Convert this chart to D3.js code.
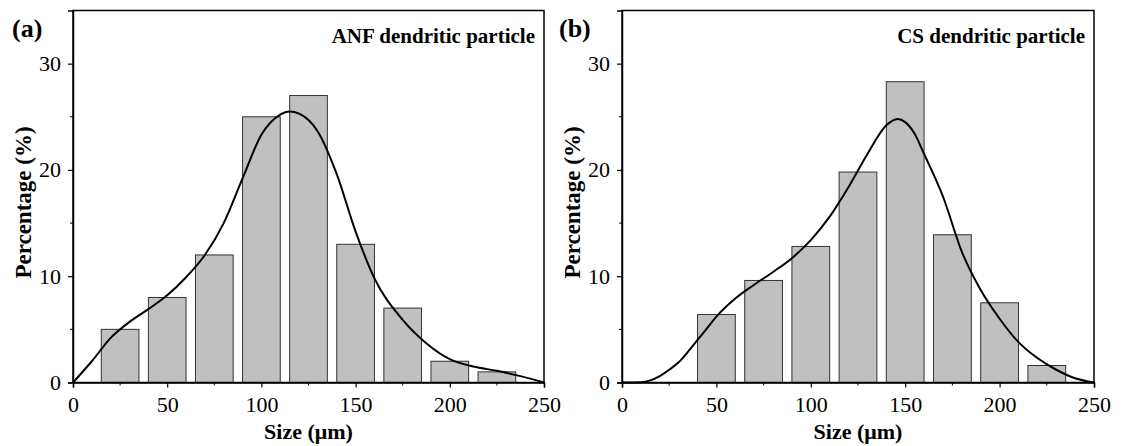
<!DOCTYPE html>
<html>
<head>
<meta charset="utf-8">
<script src="https://cdn.jsdelivr.net/npm/d3@7"></script>
<style>
    body { margin: 0; background: #fff; }
    svg { display: block; }
    svg text { font-family: "Liberation Serif", "Times New Roman", serif; fill: #000; }
</style>
</head>
<body>
<div id="chart"></div>
<script>
// bin centres (µm) and percentages
const anfBins = [25, 50, 75, 100, 125, 150, 175, 200, 225];
const anfPct = [5, 8, 12, 25, 27, 13, 7, 2, 1];
const csBins = [50, 75, 100, 125, 150, 175, 200, 225];
const csPct = [6.4, 9.6, 12.8, 19.8, 28.3, 13.9, 7.5, 1.6];

// fitted distribution curves
const anfFitX = [0, 10, 20, 30, 40, 50, 60, 70, 80, 90, 100, 110, 115, 120, 130, 140, 150, 160, 175, 187.5, 200, 212.5, 225, 237.5, 250];
const anfFitY = [0, 2.0, 4.2, 5.7, 6.9, 8.2, 9.9, 12.0, 15.0, 19.2, 23.3, 25.2, 25.5, 25.3, 23.6, 19.6, 14.2, 9.8, 5.9, 3.7, 2.2, 1.5, 1.1, 0.6, 0];
const csFitX = [0, 10, 15, 20, 25, 30, 35, 40, 45, 50, 60, 70, 80, 90, 100, 110, 120, 130, 140, 146, 150, 155, 160, 170, 180, 190, 200, 210, 220, 230, 240, 250];
const csFitY = [0, 0.03, 0.2, 0.6, 1.2, 1.9, 2.9, 4.0, 5.1, 6.2, 7.9, 9.2, 10.4, 11.7, 13.4, 15.6, 18.4, 21.5, 24.2, 24.8, 24.5, 23.4, 21.5, 17.5, 12.3, 8.7, 6.0, 3.8, 2.3, 1.2, 0.4, 0];

const xTicks = [0, 50, 100, 150, 200, 250];
const yTicks = [0, 10, 20, 30];

const width = 1121, height = 446;
const binWidth = 20;

const svg = d3.select("#chart").append("svg")
    .attr("width", width)
    .attr("height", height)
    .attr("viewBox", `0 0 ${width} ${height}`);

function drawPanel({left, right, tag, tagX, title, bins, pct, fitX, fitY, yTitleX}) {
    const top = 10.5, bottom = 382.5;
    const x = d3.scaleLinear().domain([0, 250]).range([left, right]);
    const y = d3.scaleLinear().domain([0, 35]).range([bottom, top]);

    const g = svg.append("g");

    // bars
    g.append("g")
        .selectAll("rect")
        .data(bins)
        .join("rect")
        .attr("x", (d) => x(d - binWidth / 2))
        .attr("width", (d) => x(d + binWidth / 2) - x(d - binWidth / 2))
        .attr("y", (d, i) => y(pct[i]))
        .attr("height", (d, i) => y(0) - y(pct[i]))
        .attr("fill", "#c0c0c0")
        .attr("stroke", "#333")
        .attr("stroke-width", 1);

    // fitted curve
    const line = d3.line()
        .x((d) => x(d[0]))
        .y((d) => y(d[1]))
        .curve(d3.curveMonotoneX);
    g.append("path")
        .datum(fitX.map((v, i) => [v, fitY[i]]))
        .attr("d", line)
        .attr("fill", "none")
        .attr("stroke", "#000")
        .attr("stroke-width", 2);

    // frame
    g.append("rect")
        .attr("x", left).attr("y", top)
        .attr("width", right - left).attr("height", bottom - top)
        .attr("fill", "none")
        .attr("stroke", "#000")
        .attr("stroke-width", 1.5);

    // axes
    const xAxis = g.append("g")
        .attr("transform", `translate(0,${bottom})`)
        .call(d3.axisBottom(x).tickValues(xTicks).tickSize(5).tickPadding(9));
    xAxis.append("g")
        .selectAll("line")
        .data(d3.range(25, 250, 50))
        .join("line")
        .attr("x1", (d) => x(d)).attr("x2", (d) => x(d))
        .attr("y1", 0).attr("y2", 3)
        .attr("stroke", "#000");

    const yAxis = g.append("g")
        .attr("transform", `translate(${left},0)`)
        .call(d3.axisLeft(y).tickValues(yTicks).tickSize(5).tickPadding(7));
    yAxis.append("g")
        .selectAll("line")
        .data([5, 15, 25])
        .join("line")
        .attr("y1", (d) => y(d)).attr("y2", (d) => y(d))
        .attr("x1", 0).attr("x2", -3)
        .attr("stroke", "#000");

    g.selectAll(".domain").attr("stroke", "#000").attr("stroke-width", 1.5);
    g.selectAll(".tick line").attr("stroke", "#000").attr("stroke-width", 1.2);
    g.selectAll(".tick text")
        .style("font-family", "'Liberation Serif', 'Times New Roman', serif")
        .style("font-size", "22px")
        .attr("fill", "#000");

    // titles
    g.append("text")
        .attr("x", (left + right) / 2)
        .attr("y", 439)
        .attr("text-anchor", "middle")
        .attr("font-weight", "bold")
        .attr("font-size", 22)
        .text("Size (μm)");

    g.append("text")
        .attr("transform", `translate(${yTitleX},${(top + bottom) / 2 + 6}) rotate(-90)`)
        .attr("text-anchor", "middle")
        .attr("font-weight", "bold")
        .attr("font-size", 23)
        .text("Percentage (%)");

    g.append("text")
        .attr("x", tagX)
        .attr("y", 37)
        .attr("font-weight", "bold")
        .attr("font-size", 26)
        .text(tag);

    g.append("text")
        .attr("x", right - 9)
        .attr("y", 43)
        .attr("text-anchor", "end")
        .attr("font-weight", "bold")
        .attr("font-size", 21)
        .text(title);
}

drawPanel({
    left: 73, right: 544, tag: "(a)", tagX: 12,
    title: "ANF dendritic particle",
    bins: anfBins, pct: anfPct, fitX: anfFitX, fitY: anfFitY, yTitleX: 31
});

drawPanel({
    left: 622, right: 1094, tag: "(b)", tagX: 559,
    title: "CS dendritic particle",
    bins: csBins, pct: csPct, fitX: csFitX, fitY: csFitY, yTitleX: 580
});
</script>
</body>
</html>
